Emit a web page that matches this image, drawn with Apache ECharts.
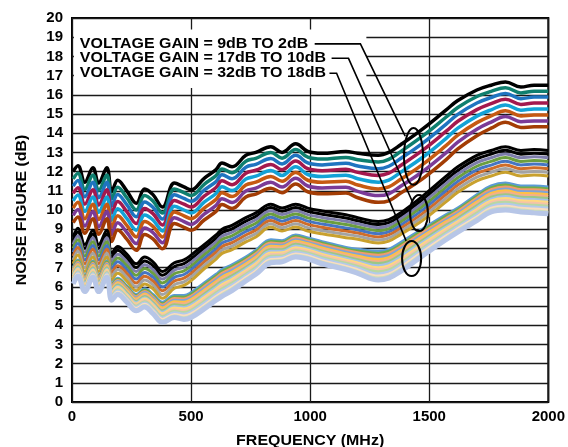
<!DOCTYPE html>
<html>
<head>
<meta charset="utf-8">
<script src="https://cdn.jsdelivr.net/npm/echarts@6/dist/echarts.min.js"></script>
<style>
  html, body { margin: 0; padding: 0; background: #fff; }
  #chart { width: 568px; height: 447px; }
</style>
</head>
<body>
<div id="chart"></div>
<script>
// Frequency points of the sweep (MHz)
const freqMHz = [5, 25, 54, 88, 112, 146, 167, 192, 230, 270, 305, 340, 380, 430, 470, 500,
  555, 605, 630, 672, 730, 772, 835, 882, 939, 990, 1050, 1150, 1200, 1286, 1330, 1380,
  1470, 1570, 1620, 1700, 1760, 1820, 1885, 1940, 2000];

// Voltage gain settings of each curve family (dB)
const gainLow = [2, 3, 4, 5, 6, 7, 8, 9];
const gainMid = [10, 11, 12, 13, 14, 15, 16, 17];
const gainHigh = [18, 19, 20, 21, 22, 23, 24, 25, 26, 27, 28, 29, 30, 31, 32];

// Noise figure (dB): one row per frequency point, one column per gain (ascending)
const nfLowGain = [
  [12.0, 11.62, 11.24, 10.86, 10.48, 10.10, 9.72, 9.34],
  [12.3, 11.92, 11.54, 11.16, 10.78, 10.40, 10.02, 9.64],
  [11.45, 11.07, 10.69, 10.31, 9.93, 9.55, 9.17, 8.79],
  [12.2, 11.82, 11.44, 11.06, 10.68, 10.30, 9.92, 9.54],
  [11.4, 11.02, 10.64, 10.26, 9.88, 9.50, 9.12, 8.74],
  [12.2, 11.82, 11.44, 11.06, 10.68, 10.30, 9.92, 9.54],
  [10.95, 10.58, 10.21, 9.84, 9.47, 9.10, 8.73, 8.36],
  [11.55, 11.18, 10.81, 10.44, 10.07, 9.70, 9.33, 8.96],
  [11.0, 10.64, 10.28, 9.92, 9.56, 9.20, 8.84, 8.48],
  [10.35, 10.0, 9.65, 9.30, 8.95, 8.60, 8.25, 7.90],
  [11.1, 10.76, 10.42, 10.08, 9.74, 9.40, 9.06, 8.72],
  [10.8, 10.47, 10.14, 9.81, 9.48, 9.15, 8.82, 8.49],
  [10.15, 9.84, 9.53, 9.22, 8.91, 8.60, 8.29, 7.98],
  [11.4, 11.1, 10.8, 10.5, 10.2, 9.9, 9.6, 9.3],
  [11.2, 10.9, 10.6, 10.3, 10.0, 9.7, 9.4, 9.1],
  [11.05, 10.75, 10.45, 10.15, 9.85, 9.55, 9.25, 8.95],
  [11.65, 11.34, 11.03, 10.72, 10.41, 10.10, 9.79, 9.48],
  [12.1, 11.79, 11.48, 11.17, 10.86, 10.55, 10.24, 9.93],
  [12.45, 12.14, 11.83, 11.52, 11.21, 10.90, 10.59, 10.28],
  [12.25, 11.94, 11.63, 11.32, 11.01, 10.70, 10.39, 10.08],
  [12.85, 12.54, 12.23, 11.92, 11.61, 11.30, 10.99, 10.68],
  [13.0, 12.69, 12.38, 12.07, 11.76, 11.45, 11.14, 10.83],
  [13.3, 12.99, 12.68, 12.37, 12.06, 11.75, 11.44, 11.13],
  [13.0, 12.7, 12.4, 12.1, 11.8, 11.5, 11.2, 10.9],
  [13.45, 13.15, 12.85, 12.55, 12.25, 11.95, 11.65, 11.35],
  [13.05, 12.75, 12.45, 12.15, 11.85, 11.55, 11.25, 10.95],
  [12.95, 12.65, 12.35, 12.05, 11.75, 11.45, 11.15, 10.85],
  [13.05, 12.74, 12.43, 12.12, 11.81, 11.50, 11.19, 10.88],
  [12.95, 12.62, 12.29, 11.96, 11.63, 11.30, 10.97, 10.64],
  [12.85, 12.50, 12.15, 11.80, 11.45, 11.10, 10.75, 10.40],
  [13.0, 12.64, 12.28, 11.92, 11.56, 11.20, 10.84, 10.48],
  [13.4, 13.04, 12.68, 12.32, 11.96, 11.60, 11.24, 10.88],
  [14.2, 13.83, 13.46, 13.09, 12.72, 12.35, 11.98, 11.61],
  [15.2, 14.83, 14.46, 14.09, 13.72, 13.35, 12.98, 12.61],
  [15.7, 15.34, 14.98, 14.62, 14.26, 13.90, 13.54, 13.18],
  [16.25, 15.91, 15.57, 15.23, 14.89, 14.55, 14.21, 13.87],
  [16.5, 16.18, 15.86, 15.54, 15.22, 14.90, 14.58, 14.26],
  [16.67, 16.37, 16.07, 15.77, 15.47, 15.17, 14.87, 14.57],
  [16.4, 16.1, 15.8, 15.5, 15.2, 14.9, 14.6, 14.3],
  [16.5, 16.19, 15.88, 15.57, 15.26, 14.95, 14.64, 14.33],
  [16.5, 16.19, 15.88, 15.57, 15.26, 14.95, 14.64, 14.33]
];

const nfMidGain = [
  [8.6, 8.4, 8.2, 8.0, 7.8, 7.6, 7.4, 7.2],
  [9.05, 8.85, 8.65, 8.45, 8.25, 8.05, 7.85, 7.65],
  [8.2, 8.0, 7.8, 7.6, 7.4, 7.2, 7.0, 6.8],
  [8.95, 8.75, 8.55, 8.35, 8.15, 7.95, 7.75, 7.55],
  [8.2, 8.0, 7.8, 7.6, 7.4, 7.2, 7.0, 6.8],
  [8.95, 8.75, 8.55, 8.35, 8.15, 7.95, 7.75, 7.55],
  [7.75, 7.55, 7.35, 7.15, 6.95, 6.75, 6.55, 6.35],
  [8.1, 7.9, 7.7, 7.5, 7.3, 7.1, 6.9, 6.7],
  [7.7, 7.5, 7.3, 7.1, 6.9, 6.7, 6.5, 6.3],
  [7.2, 7.0, 6.8, 6.6, 6.4, 6.2, 6.0, 5.8],
  [7.55, 7.35, 7.15, 6.95, 6.75, 6.55, 6.35, 6.15],
  [7.3, 7.1, 6.9, 6.7, 6.5, 6.3, 6.1, 5.9],
  [6.8, 6.6, 6.4, 6.2, 6.0, 5.8, 5.6, 5.4],
  [7.25, 7.06, 6.87, 6.68, 6.49, 6.30, 6.11, 5.92],
  [7.4, 7.21, 7.02, 6.83, 6.64, 6.45, 6.26, 6.07],
  [7.65, 7.46, 7.27, 7.08, 6.89, 6.70, 6.51, 6.32],
  [8.2, 8.02, 7.84, 7.66, 7.48, 7.30, 7.12, 6.94],
  [8.7, 8.52, 8.34, 8.16, 7.98, 7.80, 7.62, 7.44],
  [9.0, 8.82, 8.64, 8.46, 8.28, 8.10, 7.92, 7.74],
  [9.2, 9.02, 8.84, 8.66, 8.48, 8.30, 8.12, 7.94],
  [9.6, 9.42, 9.24, 9.06, 8.88, 8.70, 8.52, 8.34],
  [9.85, 9.67, 9.49, 9.31, 9.13, 8.95, 8.77, 8.59],
  [10.3, 10.13, 9.96, 9.79, 9.62, 9.45, 9.28, 9.11],
  [10.1, 9.93, 9.76, 9.59, 9.42, 9.25, 9.08, 8.91],
  [10.3, 10.13, 9.96, 9.79, 9.62, 9.45, 9.28, 9.11],
  [10.1, 9.93, 9.76, 9.59, 9.42, 9.25, 9.08, 8.91],
  [9.95, 9.78, 9.61, 9.44, 9.27, 9.10, 8.93, 8.76],
  [9.75, 9.58, 9.41, 9.24, 9.07, 8.90, 8.73, 8.56],
  [9.6, 9.44, 9.28, 9.12, 8.96, 8.80, 8.64, 8.48],
  [9.4, 9.24, 9.08, 8.92, 8.76, 8.60, 8.44, 8.28],
  [9.5, 9.34, 9.18, 9.02, 8.86, 8.70, 8.54, 8.38],
  [9.85, 9.69, 9.53, 9.37, 9.21, 9.05, 8.89, 8.73],
  [10.7, 10.52, 10.34, 10.16, 9.98, 9.80, 9.62, 9.44],
  [11.75, 11.56, 11.37, 11.18, 10.99, 10.80, 10.61, 10.42],
  [12.25, 12.06, 11.87, 11.68, 11.49, 11.30, 11.11, 10.92],
  [12.85, 12.66, 12.47, 12.28, 12.09, 11.90, 11.71, 11.52],
  [13.1, 12.91, 12.72, 12.53, 12.34, 12.15, 11.96, 11.77],
  [13.3, 13.11, 12.92, 12.73, 12.54, 12.35, 12.16, 11.97],
  [13.1, 12.91, 12.72, 12.53, 12.34, 12.15, 11.96, 11.77],
  [13.15, 12.96, 12.77, 12.58, 12.39, 12.20, 12.01, 11.82],
  [13.1, 12.91, 12.72, 12.53, 12.34, 12.15, 11.96, 11.77]
];

const nfHighGain = [
  [7.0, 6.94, 6.88, 6.82, 6.76, 6.70, 6.64, 6.58, 6.51, 6.45, 6.39, 6.33, 6.27, 6.21, 6.15],
  [7.4, 7.34, 7.28, 7.22, 7.16, 7.1, 7.04, 6.97, 6.91, 6.85, 6.79, 6.73, 6.67, 6.61, 6.55],
  [6.6, 6.54, 6.48, 6.42, 6.36, 6.3, 6.24, 6.17, 6.11, 6.05, 5.99, 5.93, 5.87, 5.81, 5.75],
  [7.35, 7.29, 7.23, 7.17, 7.11, 7.05, 6.99, 6.92, 6.86, 6.8, 6.74, 6.68, 6.62, 6.56, 6.5],
  [6.6, 6.54, 6.48, 6.42, 6.36, 6.3, 6.24, 6.17, 6.11, 6.05, 5.99, 5.93, 5.87, 5.81, 5.75],
  [7.35, 7.29, 7.23, 7.17, 7.11, 7.05, 6.99, 6.92, 6.86, 6.8, 6.74, 6.68, 6.62, 6.56, 6.5],
  [6.15, 6.09, 6.03, 5.97, 5.91, 5.85, 5.79, 5.72, 5.66, 5.6, 5.54, 5.48, 5.42, 5.36, 5.3],
  [6.45, 6.39, 6.33, 6.27, 6.21, 6.15, 6.09, 6.02, 5.96, 5.9, 5.84, 5.78, 5.72, 5.66, 5.6],
  [6.05, 5.99, 5.93, 5.87, 5.81, 5.75, 5.69, 5.62, 5.56, 5.5, 5.44, 5.38, 5.32, 5.26, 5.2],
  [5.6, 5.54, 5.48, 5.42, 5.36, 5.3, 5.24, 5.17, 5.11, 5.05, 4.99, 4.93, 4.87, 4.81, 4.75],
  [5.9, 5.83, 5.76, 5.7, 5.63, 5.56, 5.49, 5.42, 5.36, 5.29, 5.22, 5.15, 5.09, 5.02, 4.95],
  [5.6, 5.53, 5.46, 5.39, 5.31, 5.24, 5.17, 5.1, 5.03, 4.96, 4.89, 4.81, 4.74, 4.67, 4.6],
  [5.2, 5.12, 5.05, 4.97, 4.9, 4.82, 4.75, 4.67, 4.6, 4.52, 4.45, 4.37, 4.3, 4.22, 4.15],
  [5.55, 5.47, 5.39, 5.3, 5.22, 5.14, 5.06, 4.97, 4.89, 4.81, 4.73, 4.65, 4.56, 4.48, 4.4],
  [5.55, 5.46, 5.37, 5.28, 5.19, 5.1, 5.01, 4.92, 4.84, 4.75, 4.66, 4.57, 4.48, 4.39, 4.3],
  [5.7, 5.61, 5.51, 5.42, 5.33, 5.24, 5.14, 5.05, 4.96, 4.86, 4.77, 4.68, 4.59, 4.49, 4.4],
  [6.2, 6.1, 6.01, 5.91, 5.81, 5.72, 5.62, 5.52, 5.43, 5.33, 5.24, 5.14, 5.04, 4.95, 4.85],
  [6.65, 6.55, 6.46, 6.36, 6.26, 6.17, 6.07, 5.97, 5.88, 5.78, 5.69, 5.59, 5.49, 5.4, 5.3],
  [6.9, 6.8, 6.7, 6.6, 6.5, 6.4, 6.3, 6.2, 6.1, 6.0, 5.9, 5.8, 5.7, 5.6, 5.5],
  [7.15, 7.05, 6.96, 6.86, 6.76, 6.67, 6.57, 6.47, 6.38, 6.28, 6.19, 6.09, 5.99, 5.9, 5.8],
  [7.55, 7.46, 7.37, 7.28, 7.19, 7.1, 7.01, 6.92, 6.84, 6.75, 6.66, 6.57, 6.48, 6.39, 6.3],
  [7.9, 7.81, 7.72, 7.63, 7.54, 7.45, 7.36, 7.27, 7.19, 7.1, 7.01, 6.92, 6.83, 6.74, 6.65],
  [8.45, 8.36, 8.28, 8.19, 8.11, 8.02, 7.94, 7.85, 7.76, 7.68, 7.59, 7.51, 7.42, 7.34, 7.25],
  [8.4, 8.32, 8.24, 8.16, 8.09, 8.01, 7.93, 7.85, 7.77, 7.69, 7.61, 7.54, 7.46, 7.38, 7.3],
  [8.7, 8.62, 8.54, 8.45, 8.37, 8.29, 8.21, 8.12, 8.04, 7.96, 7.88, 7.8, 7.71, 7.63, 7.55],
  [8.55, 8.47, 8.39, 8.31, 8.24, 8.16, 8.08, 8.0, 7.92, 7.84, 7.76, 7.69, 7.61, 7.53, 7.45],
  [8.35, 8.27, 8.19, 8.1, 8.02, 7.94, 7.86, 7.77, 7.69, 7.61, 7.53, 7.45, 7.36, 7.28, 7.2],
  [8.05, 7.97, 7.89, 7.8, 7.72, 7.64, 7.56, 7.47, 7.39, 7.31, 7.23, 7.15, 7.06, 6.98, 6.9],
  [7.95, 7.86, 7.77, 7.68, 7.59, 7.5, 7.41, 7.32, 7.24, 7.15, 7.06, 6.97, 6.88, 6.79, 6.7],
  [7.85, 7.74, 7.64, 7.53, 7.42, 7.31, 7.21, 7.1, 6.99, 6.89, 6.78, 6.67, 6.56, 6.46, 6.35],
  [7.95, 7.84, 7.74, 7.63, 7.52, 7.41, 7.31, 7.2, 7.09, 6.99, 6.88, 6.77, 6.66, 6.56, 6.45],
  [8.3, 8.19, 8.09, 7.98, 7.87, 7.76, 7.66, 7.55, 7.44, 7.34, 7.23, 7.12, 7.01, 6.91, 6.8],
  [9.0, 8.9, 8.8, 8.7, 8.6, 8.5, 8.4, 8.3, 8.2, 8.1, 8.0, 7.9, 7.8, 7.7, 7.6],
  [9.75, 9.66, 9.56, 9.47, 9.38, 9.29, 9.19, 9.1, 9.01, 8.91, 8.82, 8.73, 8.64, 8.54, 8.45],
  [10.1, 10.01, 9.92, 9.83, 9.74, 9.65, 9.56, 9.47, 9.39, 9.3, 9.21, 9.12, 9.03, 8.94, 8.85],
  [10.8, 10.7, 10.61, 10.51, 10.41, 10.32, 10.22, 10.12, 10.03, 9.93, 9.84, 9.74, 9.64, 9.55, 9.45],
  [11.25, 11.15, 11.06, 10.96, 10.86, 10.77, 10.67, 10.57, 10.48, 10.38, 10.29, 10.19, 10.09, 10.0, 9.9],
  [11.4, 11.3, 11.2, 11.1, 11.0, 10.9, 10.8, 10.7, 10.6, 10.5, 10.4, 10.3, 10.2, 10.1, 10.0],
  [11.25, 11.15, 11.06, 10.96, 10.86, 10.77, 10.67, 10.57, 10.48, 10.38, 10.29, 10.19, 10.09, 10.0, 9.9],
  [11.25, 11.15, 11.05, 10.95, 10.85, 10.75, 10.65, 10.55, 10.45, 10.35, 10.25, 10.15, 10.05, 9.95, 9.85],
  [11.2, 11.1, 11.0, 10.9, 10.8, 10.7, 10.6, 10.5, 10.4, 10.3, 10.2, 10.1, 10.0, 9.9, 9.8]
];

// Trace colours, one per gain in each family
const colorsLow = ['#000000', '#0f7f6f', '#1f74c0', '#a3194e', '#13a2d6', '#c65a12', '#7b3b97', '#a33d05'];
const colorsMid = ['#000000', '#000000', '#7d7daa', '#6b9e3e', '#4675c2', '#cf6d2a', '#a3a3a3', '#c9a12e'];
const colorsHigh = ['#5b9bd5', '#70ad47', '#f29b6b', '#7fa3d8', '#ffc145', '#f3b08a', '#9cc785', '#a3c2e8',
  '#ffd980', '#f5c3a8', '#b8d7a3', '#b3caeb', '#f9dcc0', '#cadcbc', '#b7c6e7'];

// Axis ticks and titles
const freqTicks = { min: 0, max: 2000, step: 500 };
const nfTicks = { min: 0, max: 20, step: 1 };
const xTitle = 'FREQUENCY (MHz)';
const yTitle = 'NOISE FIGURE (dB)';

// Callout text, leader lines and the rings around each family (data units)
const noteText = ['VOLTAGE GAIN = 9dB TO 2dB', 'VOLTAGE GAIN = 17dB TO 10dB', 'VOLTAGE GAIN = 32dB TO 18dB'];
const noteAnchor = [[33, 18.65], [33, 17.9], [33, 17.12]];
const leaderPaths = [
  [[1019, 18.65], [1211, 18.65], [1399, 13.85]],
  [[1090, 17.9], [1161, 17.9], [1428, 10.47]],
  [[1081, 17.12], [1111, 17.12], [1403, 8.39]]
];
const rings = [[1434, 12.79, 40, 1.48], [1457, 9.84, 37.6, 0.94], [1426, 7.47, 40, 0.91]];
const noteBox = [8, 16.35, 1236, 19.4];
// Where the axis titles sit, in data units (outside the plot area)
const xTitleAt = [1000, -2.03];
const yTitleAt = [-209, 10];

const series = [];
function addFamily(rows, gains, colors, width) {
  gains.forEach(function (g, i) {
    series.push({
      type: 'line',
      name: g + ' dB',
      data: freqMHz.map(function (f, k) { return [f, rows[k][i]]; }),
      symbol: 'none',
      smooth: 0.4,
      silent: true,
      z: 3,
      lineStyle: { color: colors[i], width: (i === gains.length - 1 && gains.length > 10) ? 5 : width }
    });
  });
}
addFamily(nfLowGain, gainLow, colorsLow, 3.5);
addFamily(nfMidGain, gainMid, colorsMid, 3);
addFamily(nfHighGain, gainHigh, colorsHigh, 3);

// Bold sans, slightly widened like the original typesetting
const textFont = 'bold 14px "Liberation Sans", Arial, sans-serif';
const textStretch = 1.14;

series.push({
  type: 'custom',
  silent: true,
  clip: false,
  z: 10,
  data: [[0, 0]],
  renderItem: function (params, api) {
    const children = [];
    const tl = api.coord([noteBox[0], noteBox[3]]);
    const br = api.coord([noteBox[2], noteBox[1]]);
    children.push({ type: 'rect', shape: { x: tl[0], y: tl[1], width: br[0] - tl[0], height: br[1] - tl[1] }, style: { fill: '#fff' } });
    noteText.forEach(function (t, i) {
      const p = api.coord(noteAnchor[i]);
      children.push({ type: 'text', x: p[0], y: p[1], scaleX: textStretch,
        style: { text: t, font: textFont, fill: '#000', align: 'left', verticalAlign: 'middle' } });
    });
    leaderPaths.forEach(function (path) {
      children.push({ type: 'polyline', shape: { points: path.map(function (p) { return api.coord(p); }) }, style: { stroke: '#000', lineWidth: 1.6, fill: null } });
    });
    rings.forEach(function (r) {
      const c = api.coord([r[0], r[1]]);
      const s = api.size([r[2], r[3]]);
      children.push({ type: 'ellipse', shape: { cx: c[0], cy: c[1], rx: s[0], ry: s[1] }, style: { fill: null, stroke: '#000', lineWidth: 2 } });
    });
    const xp = api.coord(xTitleAt);
    children.push({ type: 'text', x: xp[0], y: xp[1], scaleX: textStretch,
      style: { text: xTitle, font: textFont, fill: '#000', align: 'center', verticalAlign: 'middle' } });
    const yp = api.coord(yTitleAt);
    children.push({ type: 'text', x: yp[0], y: yp[1], rotation: Math.PI / 2, scaleX: textStretch,
      style: { text: yTitle, font: textFont, fill: '#000', align: 'center', verticalAlign: 'middle' } });
    return { type: 'group', children: children };
  }
});

const chart = echarts.init(document.getElementById('chart'));
chart.setOption({
  animation: false,
  backgroundColor: '#fff',
  grid: { left: 72, top: 18, width: 479, height: 384, show: true, borderColor: '#000', borderWidth: 2, backgroundColor: 'transparent' },
  xAxis: {
    type: 'value', min: freqTicks.min, max: freqTicks.max, interval: freqTicks.step,
    axisLine: { show: false }, axisTick: { show: false },
    axisLabel: { fontFamily: 'Liberation Sans', fontWeight: 'bold', fontSize: 15, color: '#000', margin: 7,
      formatter: function (v) { return String(v); } },
    splitLine: { show: true, lineStyle: { color: '#1a1a1a', width: 1.3 } }
  },
  yAxis: {
    type: 'value', min: nfTicks.min, max: nfTicks.max, interval: nfTicks.step,
    axisLine: { show: false }, axisTick: { show: false },
    axisLabel: { fontFamily: 'Liberation Sans', fontWeight: 'bold', fontSize: 15, color: '#000', margin: 9,
      formatter: function (v) { return String(v); } },
    splitLine: { show: true, lineStyle: { color: '#1a1a1a', width: 1.3 } }
  },
  series: series
});
</script>
</body>
</html>
